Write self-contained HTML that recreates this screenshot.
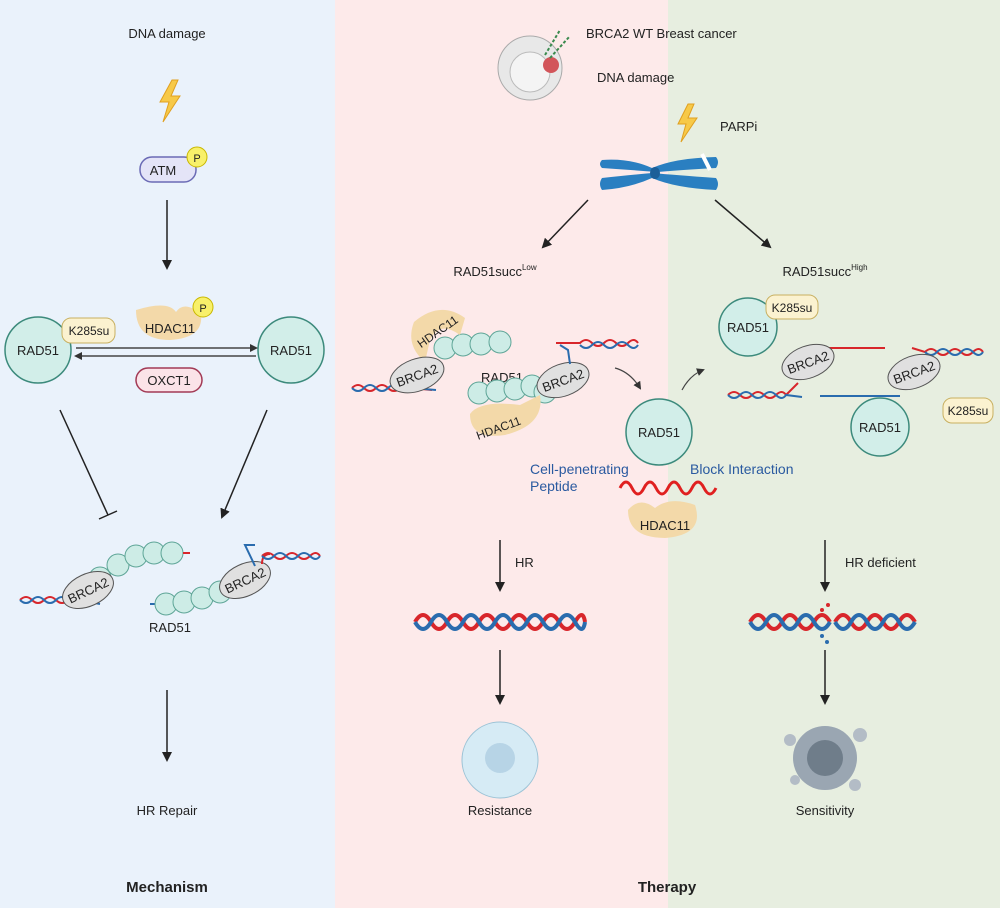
<!DOCTYPE html>
<html><head><meta charset="utf-8"><style>
body{margin:0;width:1000px;height:908px;overflow:hidden;font-family:"Liberation Sans",Arial,sans-serif}
svg text{font-family:"Liberation Sans",Arial,sans-serif}
</style></head><body>
<svg width="1000" height="908" viewBox="0 0 1000 908" xmlns="http://www.w3.org/2000/svg">
<defs>
<marker id="ah" markerWidth="10" markerHeight="10" refX="8" refY="5" orient="auto" markerUnits="userSpaceOnUse"><path d="M0,0 L10,5 L0,10 z" fill="#222"/></marker>
<marker id="ahs" markerWidth="8" markerHeight="8" refX="6" refY="4" orient="auto" markerUnits="userSpaceOnUse"><path d="M0,0 L8,4 L0,8 z" fill="#333"/></marker>
</defs>
<rect x="0" y="0" width="335" height="908" fill="#eaf2fb"/>
<rect x="335" y="0" width="333" height="908" fill="#fdeaea"/>
<rect x="668" y="0" width="332" height="908" fill="#e7eee0"/>

<g font-size="13" fill="#222" text-anchor="middle">
<!-- LEFT -->
<text x="167" y="38">DNA damage</text>
<path d="M172,80 L160,102 L169,102 L163,122 L180,96 L171,96 L178,80 z" fill="#f7c948" stroke="#e0a020" stroke-width="1"/>
<rect x="140" y="157" width="56" height="25" rx="12" fill="#e4e4f7" stroke="#6b6bb5" stroke-width="1.5"/>
<text x="163" y="175">ATM</text>
<circle cx="197" cy="157" r="10" fill="#f8f06a" stroke="#c9b800"/>
<text x="197" y="162" font-size="11">P</text>
<line x1="167" y1="200" x2="167" y2="268" stroke="#222" stroke-width="1.5" marker-end="url(#ah)"/>

<circle cx="38" cy="350" r="33" fill="#d2eee9" stroke="#3c8a7c" stroke-width="1.5"/>
<text x="38" y="355">RAD51</text>
<circle cx="291" cy="350" r="33" fill="#d2eee9" stroke="#3c8a7c" stroke-width="1.5"/>
<text x="291" y="355">RAD51</text>
<rect x="62" y="318" width="53" height="25" rx="9" fill="#fbf2d0" stroke="#c8b061"/>
<text x="89" y="335" font-size="12">K285su</text>
<path d="M136,310 Q168,300 176,312 Q184,300 201,314 Q204,338 170,340 Q136,340 136,310 z" fill="#f3d9a9"/>
<text x="170" y="333">HDAC11</text>
<circle cx="203" cy="307" r="10" fill="#f8f06a" stroke="#c9b800"/>
<text x="203" y="312" font-size="11">P</text>
<line x1="76" y1="348" x2="256" y2="348" stroke="#444" stroke-width="1.5" marker-end="url(#ahs)"/>
<line x1="256" y1="356" x2="76" y2="356" stroke="#444" stroke-width="1.5" marker-end="url(#ahs)"/>
<rect x="136" y="368" width="66" height="24" rx="12" fill="#fbe3e8" stroke="#a23a55" stroke-width="1.5"/>
<text x="169" y="385">OXCT1</text>
<line x1="60" y1="410" x2="108" y2="515" stroke="#222" stroke-width="1.5"/>
<line x1="99" y1="519" x2="117" y2="511" stroke="#222" stroke-width="1.5"/>
<line x1="267" y1="410" x2="222" y2="517" stroke="#222" stroke-width="1.5" marker-end="url(#ah)"/>

<path d="M20,600 q6,-6 12,0 t12,0 t12,0 t12,0 t12,0" fill="none" stroke="#d8262b" stroke-width="2"/>
<path d="M20,600 q6,6 12,0 t12,0 t12,0 t12,0 t12,0 l20,4" fill="none" stroke="#2a6cae" stroke-width="2"/>
<g fill="#cdece6" stroke="#5ea597"><circle cx="100" cy="578" r="11"/><circle cx="118" cy="565" r="11"/><circle cx="136" cy="556" r="11"/><circle cx="154" cy="553" r="11"/><circle cx="172" cy="553" r="11"/></g>
<line x1="183" y1="553" x2="190" y2="553" stroke="#d8262b" stroke-width="2"/>
<ellipse cx="88" cy="590" rx="27" ry="16" fill="#e0e0e0" stroke="#555" transform="rotate(-25 88 590)"/>
<text x="88" y="595" transform="rotate(-25 88 590)">BRCA2</text>
<line x1="150" y1="604" x2="160" y2="604" stroke="#2a6cae" stroke-width="2"/>
<g fill="#cdece6" stroke="#5ea597"><circle cx="166" cy="604" r="11"/><circle cx="184" cy="602" r="11"/><circle cx="202" cy="598" r="11"/><circle cx="220" cy="592" r="11"/></g>
<ellipse cx="245" cy="580" rx="27" ry="16" fill="#e0e0e0" stroke="#555" transform="rotate(-25 245 580)"/>
<text x="245" y="585" transform="rotate(-25 245 580)">BRCA2</text>
<path d="M255,566 L245,545 L255,545" fill="none" stroke="#2a6cae" stroke-width="2"/>
<path d="M262,564 q0,-10 8,-10" fill="none" stroke="#d8262b" stroke-width="2"/>
<path d="M262,556 q6,-6 12,0 t12,0 t12,0 t12,0 t10,0" fill="none" stroke="#d8262b" stroke-width="2"/>
<path d="M262,556 q6,6 12,0 t12,0 t12,0 t12,0 t10,0" fill="none" stroke="#2a6cae" stroke-width="2"/>
<text x="170" y="632">RAD51</text>
<line x1="167" y1="690" x2="167" y2="760" stroke="#222" stroke-width="1.5" marker-end="url(#ah)"/>
<text x="167" y="815">HR Repair</text>
<text x="167" y="892" font-weight="bold" font-size="15">Mechanism</text>

<!-- MIDDLE top -->
<circle cx="530" cy="68" r="32" fill="#e8e8e8" stroke="#aaa"/>
<circle cx="530" cy="72" r="20" fill="#f4f4f4" stroke="#bbb"/>
<circle cx="551" cy="65" r="8" fill="#d2555a"/>
<path d="M545,55 l15,-25 M550,58 l20,-22" stroke="#3b8a4e" stroke-width="2" stroke-dasharray="3 2"/>
<text x="586" y="38" text-anchor="start">BRCA2 WT Breast cancer</text>
<text x="597" y="82" text-anchor="start">DNA damage</text>
<path d="M688,104 L678,124 L686,124 L681,142 L697,118 L688,118 L694,104 z" fill="#f7c948" stroke="#e0a020"/>
<text x="720" y="131" text-anchor="start">PARPi</text>
<g fill="#2a7fc1">
<path d="M602,160 Q630,158 652,168 Q675,158 716,157 Q720,162 716,168 Q680,170 658,172 Q630,170 602,168 Q598,164 602,160 z"/>
<path d="M602,178 Q630,175 652,173 Q675,175 716,178 Q720,184 716,190 Q675,188 652,178 Q630,188 602,190 Q598,184 602,178 z"/>
</g>
<ellipse cx="655" cy="173" rx="5" ry="6" fill="#1c5f99"/>
<line x1="702" y1="154" x2="710" y2="170" stroke="#fff" stroke-width="4"/>
<line x1="588" y1="200" x2="543" y2="247" stroke="#222" stroke-width="1.5" marker-end="url(#ah)"/>
<line x1="715" y1="200" x2="770" y2="247" stroke="#222" stroke-width="1.5" marker-end="url(#ah)"/>
<text x="495" y="276">RAD51succ<tspan font-size="8" dy="-6">Low</tspan></text>
<text x="825" y="276">RAD51succ<tspan font-size="8" dy="-6">High</tspan></text>

<!-- MIDDLE complex -->
<path d="M352,388 q6,-6 12,0 t12,0 t12,0 t12,0 t12,0 l20,2" fill="none" stroke="#d8262b" stroke-width="2"/>
<path d="M352,388 q6,6 12,0 t12,0 t12,0 t12,0 t12,0 l24,2" fill="none" stroke="#2a6cae" stroke-width="2"/>
<g fill="#cdece6" stroke="#5ea597"><circle cx="445" cy="348" r="11"/><circle cx="463" cy="345" r="11"/><circle cx="481" cy="344" r="11"/><circle cx="500" cy="342" r="11"/></g>
<path d="M414,322 Q440,300 465,318 L460,335 Q440,320 430,340 L425,362 Q405,345 414,322 z" fill="#f3d9a9"/>
<text x="440" y="335" font-size="12" transform="rotate(-35 440 335)">HDAC11</text>
<ellipse cx="417" cy="375" rx="28" ry="16" fill="#e0e0e0" stroke="#555" transform="rotate(-20 417 375)"/>
<text x="417" y="380" transform="rotate(-20 417 375)">BRCA2</text>
<text x="502" y="382">RAD51</text>
<g fill="#cdece6" stroke="#5ea597"><circle cx="479" cy="393" r="11"/><circle cx="497" cy="391" r="11"/><circle cx="515" cy="389" r="11"/><circle cx="532" cy="386" r="11"/><circle cx="545" cy="392" r="11"/></g>
<path d="M470,414 Q480,400 520,405 L540,395 Q545,425 505,435 Q470,440 470,414 z" fill="#f3d9a9"/>
<text x="500" y="432" font-size="12" transform="rotate(-20 500 432)">HDAC11</text>
<ellipse cx="563" cy="380" rx="27" ry="16" fill="#e0e0e0" stroke="#555" transform="rotate(-20 563 380)"/>
<text x="563" y="385" transform="rotate(-20 563 380)">BRCA2</text>
<path d="M570,364 L568,350 L560,345" fill="none" stroke="#2a6cae" stroke-width="2"/>
<path d="M556,343 L580,343 q6,-6 12,0 t12,0 t12,0 t12,0 t10,0" fill="none" stroke="#d8262b" stroke-width="2"/>
<path d="M580,345 q6,6 12,0 t12,0 t12,0 t12,0 t10,0" fill="none" stroke="#2a6cae" stroke-width="2"/>
<path d="M615,368 Q630,372 640,388" fill="none" stroke="#444" stroke-width="1.2" marker-end="url(#ahs)"/>
<path d="M682,390 Q690,375 703,370" fill="none" stroke="#444" stroke-width="1.2" marker-end="url(#ahs)"/>
<circle cx="659" cy="432" r="33" fill="#d2eee9" stroke="#3c8a7c" stroke-width="1.5"/>
<text x="659" y="437">RAD51</text>
<text x="530" y="474" fill="#2a5aa0" font-size="14" text-anchor="start">Cell-penetrating</text>
<text x="530" y="491" fill="#2a5aa0" font-size="14" text-anchor="start">Peptide</text>
<text x="690" y="474" fill="#2a5aa0" font-size="14" text-anchor="start">Block Interaction</text>
<path d="M620,488 q6,-12 12,0 t12,0 t12,0 t12,0 t12,0 t12,0 t12,0 t12,0" fill="none" stroke="#e02020" stroke-width="3"/>
<path d="M628,510 Q640,496 655,508 Q670,496 695,505 Q705,535 665,538 Q628,538 628,510 z" fill="#f3d9a9"/>
<text x="665" y="530">HDAC11</text>

<line x1="500" y1="540" x2="500" y2="590" stroke="#222" stroke-width="1.5" marker-end="url(#ah)"/>
<text x="515" y="567" text-anchor="start">HR</text>
<path d="M415,622 q8,-14 16,0 t16,0 t16,0 t16,0 t16,0 t16,0 t16,0 t16,0 t16,0 t16,0 t10,0" fill="none" stroke="#d8262b" stroke-width="4"/>
<path d="M415,622 q8,14 16,0 t16,0 t16,0 t16,0 t16,0 t16,0 t16,0 t16,0 t16,0 t16,0 t10,0" fill="none" stroke="#2a6cae" stroke-width="4"/>
<line x1="500" y1="650" x2="500" y2="703" stroke="#222" stroke-width="1.5" marker-end="url(#ah)"/>
<circle cx="500" cy="760" r="38" fill="#d6ebf5" stroke="#9cc3d6"/>
<circle cx="500" cy="758" r="15" fill="#b7d4e6"/>
<text x="500" y="815">Resistance</text>
<text x="667" y="892" font-weight="bold" font-size="15">Therapy</text>

<!-- RIGHT -->
<circle cx="748" cy="327" r="29" fill="#d2eee9" stroke="#3c8a7c" stroke-width="1.5"/>
<text x="748" y="332">RAD51</text>
<rect x="766" y="295" width="52" height="24" rx="9" fill="#fbf2d0" stroke="#c8b061"/>
<text x="792" y="312" font-size="12">K285su</text>
<path d="M728,395 q6,-6 12,0 t12,0 t12,0 t12,0 t10,0 l12,-12" fill="none" stroke="#d8262b" stroke-width="2"/>
<path d="M728,395 q6,6 12,0 t12,0 t12,0 t12,0 t10,0 l16,2" fill="none" stroke="#2a6cae" stroke-width="2"/>
<line x1="820" y1="348" x2="885" y2="348" stroke="#d8262b" stroke-width="2"/>
<line x1="820" y1="396" x2="900" y2="396" stroke="#2a6cae" stroke-width="2"/>
<ellipse cx="808" cy="362" rx="27" ry="16" fill="#e0e0e0" stroke="#555" transform="rotate(-20 808 362)"/>
<text x="808" y="367" transform="rotate(-20 808 362)">BRCA2</text>
<path d="M912,348 L925,352 q6,-6 12,0 t12,0 t12,0 t12,0 t10,0" fill="none" stroke="#d8262b" stroke-width="2"/>
<path d="M925,352 q6,6 12,0 t12,0 t12,0 t12,0 t10,0" fill="none" stroke="#2a6cae" stroke-width="2"/>
<ellipse cx="914" cy="372" rx="27" ry="16" fill="#e0e0e0" stroke="#555" transform="rotate(-20 914 372)"/>
<text x="914" y="377" transform="rotate(-20 914 372)">BRCA2</text>
<circle cx="880" cy="427" r="29" fill="#d2eee9" stroke="#3c8a7c" stroke-width="1.5"/>
<text x="880" y="432">RAD51</text>
<rect x="943" y="398" width="50" height="25" rx="9" fill="#fbf2d0" stroke="#c8b061"/>
<text x="968" y="415" font-size="12">K285su</text>

<line x1="825" y1="540" x2="825" y2="590" stroke="#222" stroke-width="1.5" marker-end="url(#ah)"/>
<text x="845" y="567" text-anchor="start">HR deficient</text>
<path d="M750,622 q8,-14 16,0 t16,0 t16,0 t16,0 t16,0 M835,622 q8,-14 16,0 t16,0 t16,0 t16,0 t16,0" fill="none" stroke="#d8262b" stroke-width="4"/>
<path d="M750,622 q8,14 16,0 t16,0 t16,0 t16,0 t16,0 M835,622 q8,14 16,0 t16,0 t16,0 t16,0 t16,0" fill="none" stroke="#2a6cae" stroke-width="4"/>
<g fill="#d8262b"><circle cx="822" cy="610" r="2"/><circle cx="828" cy="605" r="2"/></g>
<g fill="#2a6cae"><circle cx="822" cy="636" r="2"/><circle cx="827" cy="642" r="2"/></g>
<line x1="825" y1="650" x2="825" y2="703" stroke="#222" stroke-width="1.5" marker-end="url(#ah)"/>
<circle cx="825" cy="758" r="32" fill="#9aa6b2"/>
<circle cx="825" cy="758" r="18" fill="#6f7d8a"/>
<g fill="#b3bcc6"><circle cx="790" cy="740" r="6"/><circle cx="860" cy="735" r="7"/><circle cx="855" cy="785" r="6"/><circle cx="795" cy="780" r="5"/></g>
<text x="825" y="815">Sensitivity</text>
</g>
</svg>
</body></html>
